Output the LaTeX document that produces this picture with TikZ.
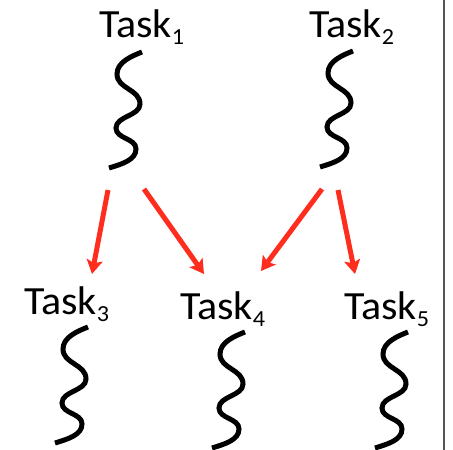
\documentclass[tikz,border=0pt]{standalone}
\usepackage{fontspec}
\setmainfont{Carlito}
\usetikzlibrary{arrows.meta}
\definecolor{arrred}{RGB}{255,45,30}
\definecolor{sepgray}{RGB}{85,85,85}
\newcommand{\tasklabel}[1]{\scalebox{1.05}[1]{\fontsize{40}{44}\selectfont Task\raisebox{-7pt}{\fontsize{23}{26}\selectfont #1}}}
\tikzset{
  tasktext/.style={anchor=base west, inner sep=0pt, outer sep=0pt},
  squiggle/.pic={\draw[line width=5pt, line cap=butt]
    (0,0) .. controls (-10,4) and (-25,10) .. (-25,22)
    .. controls (-25,37) and (-2,37) .. (-2,52)
    .. controls (-2,64) and (-26,64) .. (-26,76)
    .. controls (-26,87) and (-6,86) .. (-6,97)
    .. controls (-6,108) and (-20,112) .. (-33,116);},
  dep/.style={draw=arrred, line width=5pt, -{Stealth[length=14pt, width=16pt, inset=3pt]}}
}
\begin{document}
\begin{tikzpicture}[x=1pt, y=-1pt]
\useasboundingbox (0,0) rectangle (453,450);
% separator
\draw[sepgray, line width=2pt] (444,0) -- (444,450);
% labels
\node[tasktext] (t1) at (99,37) {\tasklabel{1}};
\node[tasktext] (t2) at (309,37) {\tasklabel{2}};
\node[tasktext] (t3) at (24,314) {\tasklabel{3}};
\node[tasktext] (t4) at (180,319) {\tasklabel{4}};
\node[tasktext] (t5) at (344,319) {\tasklabel{5}};
% squiggles
\pic at (142,52) {squiggle};
\pic at (353,51) {squiggle};
\pic at (88,327) {squiggle};
\pic at (245,332) {squiggle};
\pic at (408,332) {squiggle};
% arrow ends
\coordinate (s13) at (108,190);
\coordinate (e13) at (92,274);
\coordinate (s14) at (144,189);
\coordinate (e14) at (204,274);
\coordinate (s24) at (322,189);
\coordinate (e24) at (261,271);
\coordinate (s25) at (338,190);
\coordinate (e25) at (355,274);
\draw[dep] (s13) -- (e13);
\draw[dep] (s14) -- (e14);
\draw[dep] (s24) -- (e24);
\draw[dep] (s25) -- (e25);
\end{tikzpicture}
\end{document}
